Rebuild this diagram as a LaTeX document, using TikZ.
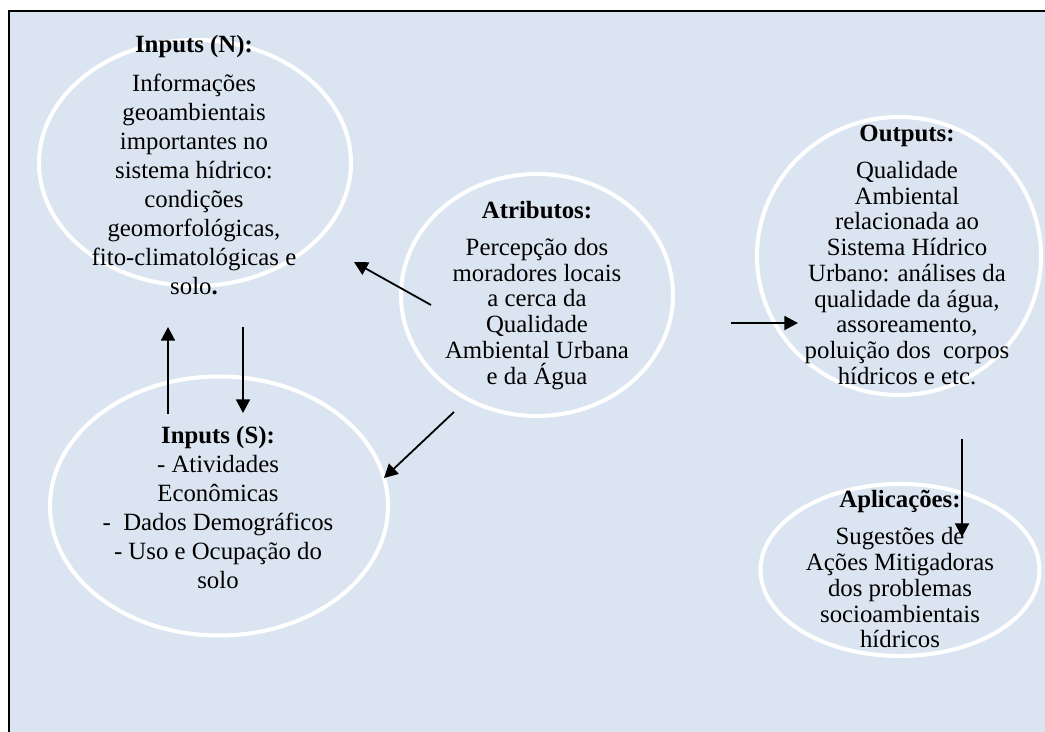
\documentclass[tikz,border=0pt]{standalone}
\usepackage{fontspec}
\setmainfont{Liberation Serif}
\usepackage{xcolor}
\definecolor{panelblue}{RGB}{219,229,241}
\usepackage{tikz}
\usetikzlibrary{shapes.geometric,arrows.meta}
\tikzset{
  blob/.style={
    ellipse, draw=white, line width=2pt, inner sep=0pt
  },
  loosetext/.style={
    align=center, inner sep=0pt, font=\fontsize{12.4}{14.5}\selectfont
  },
  tighttext/.style={
    align=center, inner sep=0pt, font=\fontsize{12.4}{12.85}\selectfont
  },
  flow/.style={-{Triangle[length=6.8pt,width=7pt]}, line width=0.9pt, draw=black},
}

\begin{document}
\begin{tikzpicture}[x=0.5pt,y=-0.5pt]

  \useasboundingbox (0,0) rectangle (1045,732);
  \clip (0,0) rectangle (1045,732);
  \draw[fill=panelblue, line width=1.3pt] (9,11) rectangle (1070,760);

  % the five ellipses
  \node[blob, minimum width=156pt, minimum height=123pt] (inN) at (195,163) {};
  \node[blob, minimum width=136pt, minimum height=121pt] (attr) at (537,295) {};
  \node[blob, minimum width=142pt, minimum height=139pt] (outp) at (899,256) {};
  \node[blob, minimum width=169pt, minimum height=129.5pt] (inS) at (219,506) {};
  \node[blob, minimum width=139.5pt, minimum height=86pt] (apps) at (900,570) {};

  \node[loosetext] (inNtext) at (194,165) {\textbf{Inputs (N):}\\[5pt]
    Informações\\ geoambientais\\ importantes no\\ sistema hídrico:\\
    condições\\ geomorfológicas,\\ fito-climatológicas e\\ solo\textbf{.}};
  \node[tighttext] (attrtext) at (537,295.5) {\textbf{Atributos:}\\[5.5pt]
    Percepção dos\\ moradores locais\\ a cerca da\\ Qualidade\\
    Ambiental Urbana\\ e da Água};
  \node[tighttext] (outptext) at (907,255) {\textbf{Outputs:}\\[5.5pt]
    Qualidade\\ Ambiental\\ relacionada ao\\ Sistema Hídrico\\
    Urbano: análises da\\ qualidade da água,\\ assoreamento,\\
    poluição dos~ corpos\\ hídricos e etc.};
  \node[loosetext] (inStext) at (218,507.5) {\textbf{Inputs (S):}\\
    - Atividades\\ Econômicas\\ -~ Dados Demográficos\\
    - Uso e Ocupação do\\ solo};
  \node[tighttext] (appstext) at (900,569) {\textbf{Aplicações:}\\[6pt]
    Sugestões de\\ Ações Mitigadoras\\ dos problemas\\
    socioambientais\\ hídricos};

  % arrow ends
  \coordinate (attrNW) at (431,305);
  \coordinate (inNSE) at (354,262);
  \coordinate (attrSW) at (454,412);
  \coordinate (inSNE) at (384,478);
  \coordinate (attrE) at (731,323);
  \coordinate (outpW) at (798,323);
  \coordinate (inSup) at (168,414);
  \coordinate (inNup) at (168,327);
  \coordinate (inNdown) at (243,327);
  \coordinate (inSdown) at (243,413);
  \coordinate (outpS) at (962,439);
  \coordinate (appsN) at (962,537);

  \draw[flow] (attrNW) -- (inNSE);
  \draw[flow] (attrSW) -- (inSNE);
  \draw[flow] (attrE) -- (outpW);
  \draw[flow] (inSup) -- (inNup);
  \draw[flow] (inNdown) -- (inSdown);
  \draw[flow] (outpS) -- (appsN);

\end{tikzpicture}
\end{document}
